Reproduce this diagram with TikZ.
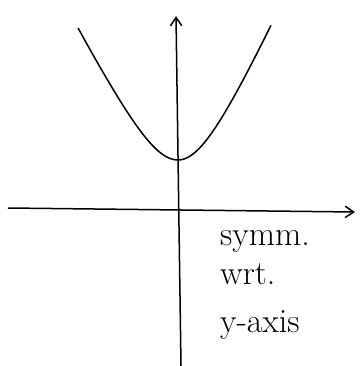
\documentclass[tikz,border=0pt]{standalone}
\usepackage{amsmath}
\usetikzlibrary{calc, positioning}
\usetikzlibrary{arrows.meta}
\begin{document}
\begin{tikzpicture}[x=1pt, y=-1pt, line width=1.5pt]
\def\c{40}
\useasboundingbox (0, 0) rectangle (359, 366);
\coordinate (O) at (178, 210);
\coordinate (W) at (8, 208);
\coordinate (E) at (355, 212);
\coordinate (S) at (181, 366);
\coordinate (N) at (176, 16);

\draw[-{Straight Barb[length=3mm, width=4mm]}] (W) -- (E);
\draw[-{Straight Barb[length=3mm, width=4mm]}] (S) -- (N);
\draw[domain=-100:93, samples=80, smooth]
  plot ({178 + \x}, {160 - (\x < 0 ? 1.95 : 2.2)*(sqrt(\c*\c + \x*\x) - \c)});

\node[anchor=base west, font=\fontsize{34}{40}\selectfont] (sym) at (216, 245) {symm.};
\node[anchor=base west, font=\fontsize{34}{40}\selectfont] (wrt) at (216, 284) {wrt.};
\node[anchor=base west, font=\fontsize{34}{40}\selectfont] (yax) at (216, 332) {y-axis};
\end{tikzpicture}
\end{document}
